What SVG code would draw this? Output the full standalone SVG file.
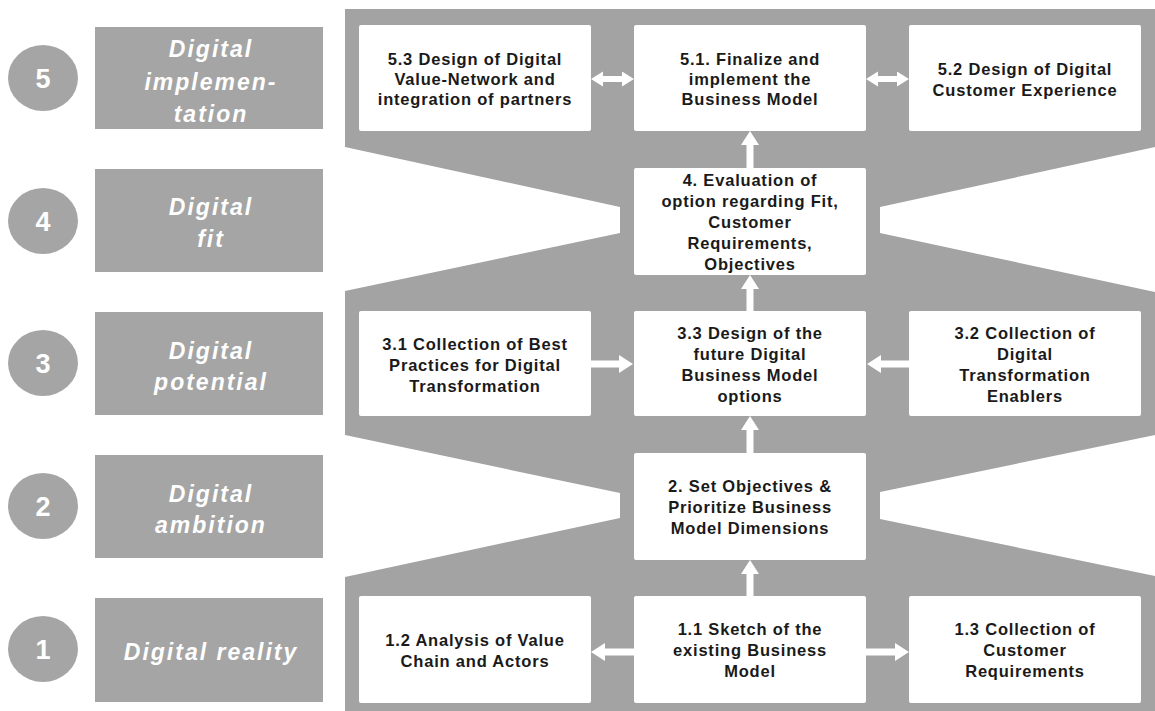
<svg xmlns="http://www.w3.org/2000/svg" width="1155" height="711" viewBox="0 0 1155 711">
<style>
.bg{fill:#a3a3a3}
.lbl{fill:#a5a5a5}
.num{font-family:"Liberation Sans",Arial,sans-serif;font-weight:bold;font-size:27px;fill:#fff;text-anchor:middle}
.phase{font-family:"Liberation Sans",Arial,sans-serif;font-weight:bold;font-style:italic;font-size:23px;letter-spacing:2px;fill:#fff;text-anchor:middle}
.box{fill:#fff}
.t{font-family:"Liberation Sans",Arial,sans-serif;font-weight:bold;font-size:16.5px;letter-spacing:0.8px;fill:#1a1a1a;text-anchor:middle}
.arr{stroke:#fff;stroke-width:7;fill:none}
.arrs{stroke:#fff;stroke-width:6;fill:none}
</style>
<defs>
<marker id="ah" markerUnits="userSpaceOnUse" markerWidth="16" markerHeight="20" refX="0" refY="9" orient="auto"><path d="M0,0 L14,9 L0,18 z" fill="#fff"/></marker>
<marker id="ahs" markerUnits="userSpaceOnUse" markerWidth="14" markerHeight="16" refX="0" refY="7.5" orient="auto-start-reverse"><path d="M0,0 L12,7.5 L0,15 z" fill="#fff"/></marker>
</defs>
<rect width="1155" height="711" fill="#fff"/>
<g id="background">
<polygon class="bg" points="345,9 1155,9 1155,147 880,207 880,233 1155,292 1155,435 880,492 880,519 1155,576 1155,711 345,711 345,577 620,518 620,493 345,435 345,291 620,233 620,207 345,147"/>
</g>
<g id="phase5"><ellipse class="lbl" cx="43" cy="78" rx="35" ry="33"/><text class="num" x="43" y="88">5</text><rect class="lbl" x="95" y="27" width="228" height="102"/><text class="phase" x="211" y="57">Digital</text><text class="phase" x="211" y="90">implemen-</text><text class="phase" x="211" y="122">tation</text></g>
<g id="phase4"><ellipse class="lbl" cx="43" cy="221" rx="35" ry="33"/><text class="num" x="43" y="231">4</text><rect class="lbl" x="95" y="169" width="228" height="103"/><text class="phase" x="211" y="215">Digital</text><text class="phase" x="211" y="247">fit</text></g>
<g id="phase3"><ellipse class="lbl" cx="43" cy="363" rx="35" ry="33"/><text class="num" x="43" y="373">3</text><rect class="lbl" x="95" y="312" width="228" height="103"/><text class="phase" x="211" y="359">Digital</text><text class="phase" x="211" y="390">potential</text></g>
<g id="phase2"><ellipse class="lbl" cx="43" cy="506" rx="35" ry="33"/><text class="num" x="43" y="516">2</text><rect class="lbl" x="95" y="455" width="228" height="103"/><text class="phase" x="211" y="502">Digital</text><text class="phase" x="211" y="533">ambition</text></g>
<g id="phase1"><ellipse class="lbl" cx="43" cy="649" rx="35" ry="33"/><text class="num" x="43" y="659">1</text><rect class="lbl" x="95" y="598" width="228" height="104"/><text class="phase" x="211" y="660">Digital reality</text></g>

<g id="n53"><rect class="box" x="359" y="25" width="232" height="106" rx="2"/><text class="t" x="475" y="65">5.3 Design of Digital</text><text class="t" x="475" y="85">Value-Network and</text><text class="t" x="475" y="105">integration of partners</text></g>
<g id="n51"><rect class="box" x="634" y="25" width="232" height="106" rx="2"/><text class="t" x="750" y="65">5.1. Finalize and</text><text class="t" x="750" y="85">implement the</text><text class="t" x="750" y="105">Business Model</text></g>
<g id="n52"><rect class="box" x="909" y="25" width="232" height="106" rx="2"/><text class="t" x="1025" y="75">5.2 Design of Digital</text><text class="t" x="1025" y="96">Customer Experience</text></g>
<g id="n4"><rect class="box" x="634" y="168" width="232" height="107" rx="2"/><text class="t" x="750" y="186">4. Evaluation of</text><text class="t" x="750" y="207">option regarding Fit,</text><text class="t" x="750" y="228">Customer</text><text class="t" x="750" y="249">Requirements,</text><text class="t" x="750" y="270">Objectives</text></g>
<g id="n31"><rect class="box" x="359" y="311" width="232" height="105" rx="2"/><text class="t" x="475" y="350">3.1 Collection of Best</text><text class="t" x="475" y="371">Practices for Digital</text><text class="t" x="475" y="392">Transformation</text></g>
<g id="n33"><rect class="box" x="634" y="311" width="232" height="105" rx="2"/><text class="t" x="750" y="339">3.3 Design of the</text><text class="t" x="750" y="360">future Digital</text><text class="t" x="750" y="381">Business Model</text><text class="t" x="750" y="402">options</text></g>
<g id="n32"><rect class="box" x="909" y="311" width="232" height="105" rx="2"/><text class="t" x="1025" y="339">3.2 Collection of</text><text class="t" x="1025" y="360">Digital</text><text class="t" x="1025" y="381">Transformation</text><text class="t" x="1025" y="402">Enablers</text></g>
<g id="n2"><rect class="box" x="634" y="453" width="232" height="107" rx="2"/><text class="t" x="750" y="492">2. Set Objectives &amp;</text><text class="t" x="750" y="513">Prioritize Business</text><text class="t" x="750" y="534">Model Dimensions</text></g>
<g id="n12"><rect class="box" x="359" y="596" width="232" height="107" rx="2"/><text class="t" x="475" y="646">1.2 Analysis of Value</text><text class="t" x="475" y="667">Chain and Actors</text></g>
<g id="n11"><rect class="box" x="634" y="596" width="232" height="107" rx="2"/><text class="t" x="750" y="635">1.1 Sketch of the</text><text class="t" x="750" y="656">existing Business</text><text class="t" x="750" y="677">Model</text></g>
<g id="n13"><rect class="box" x="909" y="596" width="232" height="107" rx="2"/><text class="t" x="1025" y="635">1.3 Collection of</text><text class="t" x="1025" y="656">Customer</text><text class="t" x="1025" y="677">Requirements</text></g>

<g id="connectors">
<line class="arr" x1="750" y1="168" x2="750" y2="145" marker-end="url(#ah)"/>
<line class="arr" x1="750" y1="311" x2="750" y2="289" marker-end="url(#ah)"/>
<line class="arr" x1="750" y1="453" x2="750" y2="430" marker-end="url(#ah)"/>
<line class="arr" x1="750" y1="596" x2="750" y2="574" marker-end="url(#ah)"/>
<line class="arr" x1="591" y1="364" x2="619" y2="364" marker-end="url(#ah)"/>
<line class="arr" x1="909" y1="364" x2="881" y2="364" marker-end="url(#ah)"/>
<line class="arr" x1="634" y1="652" x2="605" y2="652" marker-end="url(#ah)"/>
<line class="arr" x1="866" y1="652" x2="895" y2="652" marker-end="url(#ah)"/>
<line class="arrs" x1="603" y1="79" x2="622" y2="79" marker-start="url(#ahs)" marker-end="url(#ahs)"/>
<line class="arrs" x1="878" y1="79" x2="897" y2="79" marker-start="url(#ahs)" marker-end="url(#ahs)"/>
</g>
</svg>
